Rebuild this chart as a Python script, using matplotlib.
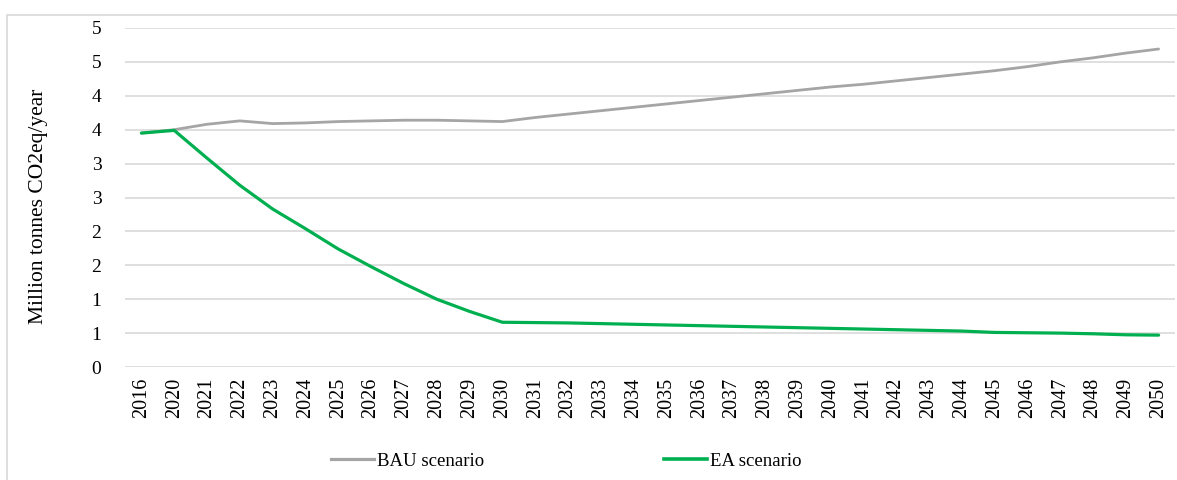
import matplotlib
matplotlib.use("Agg")
import matplotlib.pyplot as plt
from matplotlib.patches import Rectangle
from matplotlib.lines import Line2D

# Years on the category axis
years = ["2016", "2020"] + [str(y) for y in range(2021, 2051)]

# Emissions, million tonnes CO2eq per year
bau = [3.45, 3.50, 3.58, 3.63, 3.59, 3.60, 3.62, 3.63, 3.64, 3.64, 3.63, 3.62,
       3.68, 3.73, 3.78, 3.83, 3.88, 3.93, 3.98, 4.03, 4.08, 4.13,
       4.17, 4.22, 4.27, 4.32, 4.37, 4.43, 4.50, 4.56, 4.63, 4.69]
ea = [3.45, 3.49, 3.08, 2.68, 2.33, 2.04, 1.74, 1.48, 1.23, 1.00, 0.82, 0.66,
      0.655, 0.65, 0.64, 0.63, 0.62, 0.61, 0.60, 0.59, 0.58, 0.57,
      0.56, 0.55, 0.54, 0.53, 0.51, 0.505, 0.50, 0.49, 0.475, 0.47]

y_ticks = [0, 0.5, 1.0, 1.5, 2.0, 2.5, 3.0, 3.5, 4.0, 4.5, 5.0]
y_tick_labels = ["0", "1", "1", "2", "2", "3", "3", "4", "4", "5", "5"]

series_names = ["BAU scenario", "EA scenario"]
bau_color = "#a5a5a5"
ea_color = "#00b050"
grid_color = "#d9d9d9"

plt.rcParams["font.family"] = ["Liberation Serif", "DejaVu Serif"]

fig = plt.figure(figsize=(11.77, 4.80), dpi=100)
ax = fig.add_axes([125 / 1177, 1 - 367 / 480, 1050 / 1177, 339 / 480])

x = list(range(len(years)))
ax.plot(x, bau, color=bau_color, lw=2.0, solid_capstyle="round",
        solid_joinstyle="round", zorder=3)
ax.plot(x, ea, color=ea_color, lw=2.3, solid_capstyle="round",
        solid_joinstyle="round", zorder=4)

ax.set_xlim(-0.5, len(years) - 0.5)
ax.set_ylim(0, 5)
ax.set_yticks(y_ticks)
ax.set_yticklabels(y_tick_labels, fontsize=14)
ax.set_xticks(x)
ax.set_xticklabels(years, rotation=90, fontsize=14.5)
ax.tick_params(axis="y", length=0, pad=17)
ax.tick_params(axis="x", length=0, pad=8)

for v in y_ticks:
    ax.axhline(v, color=grid_color, lw=1.2, zorder=1)
for s in ax.spines.values():
    s.set_visible(False)

ax.set_ylabel("Million tonnes CO2eq/year", fontsize=15.5)
ax.yaxis.set_label_coords(-0.0735, 0.475)

# Outer chart frame
fig.patches.append(Rectangle((7 / 1177, -0.1), 1.2, 1 - 15 / 480 + 0.1,
                             transform=fig.transFigure, fill=False,
                             edgecolor=grid_color, lw=1.2))

handles = [Line2D([], [], color=bau_color, lw=2.3),
           Line2D([], [], color=ea_color, lw=2.6)]
fig.legend(handles, series_names, loc="center",
           bbox_to_anchor=(566 / 1177, 1 - 461 / 480), ncol=2,
           frameon=False, fontsize=13.5, handlelength=2.3,
           handletextpad=0.15, columnspacing=9.6)

fig.savefig("out.png", dpi=100)
